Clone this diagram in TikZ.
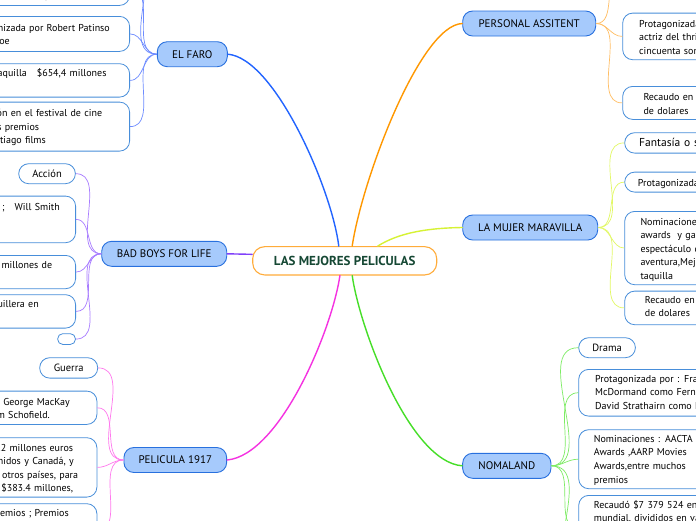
\documentclass[tikz,border=0pt]{standalone}
\usepackage{fontspec}
\setmainfont{PT Sans}
\definecolor{topicfill}{RGB}{166,202,252}
\definecolor{topicline}{RGB}{40,112,222}
\definecolor{subline}{RGB}{72,142,218}
\definecolor{cline}{RGB}{255,172,58}
\definecolor{ctext}{RGB}{22,72,52}
\definecolor{brblue}{RGB}{34,100,255}
\definecolor{brorange}{RGB}{255,152,0}
\definecolor{bryellow}{RGB}{214,242,52}
\definecolor{brpurple}{RGB}{128,64,250}
\definecolor{brmagenta}{RGB}{245,50,225}
\definecolor{brgreen}{RGB}{70,222,40}
\definecolor{lblue}{RGB}{110,140,255}
\definecolor{lpurple}{RGB}{168,124,255}
\definecolor{lmagenta}{RGB}{255,120,238}
\definecolor{lorange}{RGB}{255,190,100}
\definecolor{lyellow}{RGB}{226,248,100}
\definecolor{lgreen}{RGB}{125,236,100}
\begin{document}
\begin{tikzpicture}[x=1pt,y=-1pt,
  central/.style={draw=cline, fill=white, line width=1.1pt, rounded corners=12pt, inner sep=0pt, font=\fontsize{13}{15}\selectfont\bfseries, text=ctext},
  topic/.style={draw=topicline, fill=topicfill, line width=0.9pt, rounded corners=10pt, inner sep=0pt, minimum height=25pt, font=\fontsize{11}{13}\selectfont},
  sbox/.style={draw=subline, fill=white, line width=0.8pt, rounded corners=10pt, inner sep=0pt},
  boxL/.style={sbox, anchor=north east, minimum width=200pt},
  boxR/.style={sbox, anchor=north west, minimum width=200pt},
  txtL/.style={text width=400pt, align=right, inner sep=0pt, anchor=base east, font=\fontsize{10}{13.6}\selectfont},
  txtR/.style={text width=400pt, align=left, inner sep=0pt, anchor=base west, font=\fontsize{10}{13.6}\selectfont},
  single/.style={font=\fontsize{10.5}{13}\selectfont},
  branch/.style={line width=1.4pt, line cap=round},
  twig/.style={line width=0.7pt}]
\useasboundingbox (0,0) rectangle (696,520);
\clip (0,0) rectangle (696,520);
\fill[white] (0,0) rectangle (696,520);

% central and main topics
\node[central, minimum width=184pt, minimum height=28.3pt] (c) at (344.7,260.8) {LAS MEJORES PELICULAS};
\node[topic, minimum width=70pt] (faro) at (192.3,54.2) {EL FARO};
\node[topic, minimum width=125pt] (bb) at (164.2,253.8) {BAD BOYS FOR LIFE};
\node[topic, minimum width=102.7pt] (p17) at (175.3,460) {PELICULA 1917};
\node[topic, minimum width=133pt] (pa) at (529.2,23.5) {PERSONAL ASSITENT};
\node[topic, minimum width=135pt] (mm) at (530.2,227.5) {LA MUJER MARAVILLA};
\node[topic, minimum width=88.3pt] (nm) at (506.8,465.8) {NOMALAND};

% EL FARO subtopics
\coordinate (f00) at (130,-48);
\node[boxL, minimum height=35pt] (f0) at (130,-30) {};
\node[txtL] (f0t) at (116,-1.5) {Terror, género de época};
\node[boxL, minimum height=35pt] (f1) at (130,16) {};
\node[txtL] (f1t) at (110,31) {Protagonizada por Robert Patinso\\Willem Dafoe\rule{100pt}{0pt}};
\node[boxL, minimum height=33.4pt] (f2) at (130,63.3) {};
\node[txtL] (f2t) at (106.7,76.7) {Recaudo en taquilla\ \ \ \$654,4 millones};
\node[boxL, minimum height=49pt] (f3) at (130,101.7) {};
\node[txtL] (f3t) at (102.3,116.7) {Nominación en el festival de cine\\y varios premios\rule{63pt}{0pt}\\de Santiago films\rule{56.3pt}{0pt}};

% BAD BOYS subtopics
\node[sbox, single, anchor=north west, minimum width=56.7pt, minimum height=20pt] (b0) at (18.3,163.3) {Acción};
\node[boxL, minimum height=46.6pt] (b1) at (76,195.7) {};
\node[txtL] (b1t) at (60,210) {Protagonizada por: Martin Lawrence ;\ \ \ Will Smith};
\node[boxL, minimum height=33.3pt] (b2) at (76,255) {};
\node[txtL] (b2t) at (52.3,268.3) {Recaudo en taquilla \$426,5 millones de};
\node[boxL, minimum height=33.4pt] (b3) at (76,294.3) {};
\node[txtL] (b3t) at (39,307.7) {Fue la película más taquillera en};
\node[sbox, rounded corners=5pt, anchor=north west, minimum width=17.7pt, minimum height=10.7pt] (b4) at (57.3,333.3) {};

% PELICULA 1917 subtopics
\node[sbox, single, anchor=north west, minimum width=58pt, minimum height=20.4pt] (p0) at (39.3,357.3) {Guerra};
\node[boxL, minimum height=33.3pt] (p1) at (97.3,390.7) {};
\node[txtL] (p1t) at (70,405) {Protagonizada por: George MacKay\\como el cabo William Schofield.\rule{20pt}{0pt}};
\node[boxL, minimum height=59.4pt] (p2) at (97.3,437.3) {};
\node[txtL] (p2t) at (78.3,451) {Recaudó \$159.2 millones euros\rule{5pt}{0pt}\\en Estados Unidos y Canadá, y\rule{4.3pt}{0pt}\\\$224.2 millones en otros países, para\\un total mundial de \$383.4 millones,\rule{5pt}{0pt}};
\node[boxL, minimum height=54pt] (p3) at (97.3,503.3) {};
\node[txtL] (p3t) at (69,516.7) {Ganador de premios ; Premios};

% PERSONAL ASSITENT subtopics
\coordinate (r0) at (622.3,-25);
\node[boxR, minimum height=46.6pt] (r1) at (622.3,12.7) {};
\node[txtR] (r1t) at (639,27.3) {Protagonizada por : Kristen Stewart,\\actriz del thriller psicológico\\cincuenta sombras};
\node[boxR, minimum height=33pt] (r2) at (622.3,86) {};
\node[txtR] (r2t) at (643.3,100.7) {Recaudo en taquilla \$1,4 millones\\de dolares};

% LA MUJER MARAVILLA subtopics
\node[boxR, minimum height=20.4pt] (m0) at (624.3,132.3) {};
\node[txtR, font=\fontsize{11.5}{13.6}\selectfont] (m0t) at (639,146.7) {Fantasía o superhéroes};
\node[boxR, minimum height=20pt] (m1) at (624.3,171.7) {};
\node[txtR] (m1t) at (637.7,186) {Protagonizada por : Gal Gadot};
\node[boxR, minimum height=73.3pt] (m2) at (624.3,211) {};
\node[txtR] (m2t) at (640.3,225) {Nominaciones : Saturn\\awards\ \ y galardones al mejor\\espectáculo de ciencia ficción o\\aventura,Mejor película de\\taquilla};
\node[boxR, minimum height=33.6pt] (m3) at (624.3,290.7) {};
\node[txtR] (m3t) at (644.7,303.3) {Recaudo en taquilla \$822,3 millones\\de dolares};

% NOMALAND subtopics
\node[sbox, single, anchor=north west, minimum width=56.7pt, minimum height=20pt] (n0) at (578.3,337.3) {Drama};
\node[boxR, minimum height=46.7pt] (n1) at (578.3,369) {};
\node[txtR] (n1t) at (595,382.3) {Protagonizada por : Frances\\McDormand como Fern y\\David Strathairn como Dave};
\node[boxR, minimum height=59pt] (n2) at (578.3,429.3) {};
\node[txtR] (n2t) at (593.7,442.3) {Nominaciones : AACTA\\Awards ,AARP Movies\\Awards,entre muchos\\premios};
\node[boxR, minimum height=66pt] (n3) at (578.3,495) {};
\node[txtR] (n3t) at (593.7,508.3) {Recaudó \$7 379 524 en taquilla\\mundial, divididos en varios países};
\coordinate (n4) at (578.3,585);

% main branches
\draw[branch, brblue] (c.112) .. controls (332,190) and (275,58) .. (faro.east);
\draw[branch, brorange] (c.63) .. controls (362,180) and (420,25) .. (pa.west);
\draw[branch, bryellow] (c.24) .. controls (400,232) and (430,228) .. (mm.west);
\draw[branch, brpurple] (c.176) -- (bb.east);
\draw[branch, brmagenta] (c.252) .. controls (332,330) and (280,455) .. (p17.east);
\draw[branch, brgreen] (c.297) .. controls (360,330) and (410,462) .. (nm.west);

% twigs
\foreach \t in {f00,f0,f1,f2,f3}
  \draw[twig, lblue] (faro.west) to[out=180,in=0] (\t.east);
\foreach \t in {b0,b1,b2,b3,b4}
  \draw[twig, lpurple] (bb.west) to[out=180,in=0] (\t.east);
\foreach \t in {p0,p1,p2,p3}
  \draw[twig, lmagenta] (p17.west) to[out=180,in=0] (\t.east);
\foreach \t in {r0,r1,r2}
  \draw[twig, lorange] (pa.east) to[out=0,in=180] (\t.west);
\foreach \t in {m0,m1,m2,m3}
  \draw[twig, lyellow] (mm.east) to[out=0,in=180] (\t.west);
\foreach \t in {n0,n1,n2,n3,n4}
  \draw[twig, lgreen] (nm.east) to[out=0,in=180] (\t.west);
\end{tikzpicture}
\end{document}
